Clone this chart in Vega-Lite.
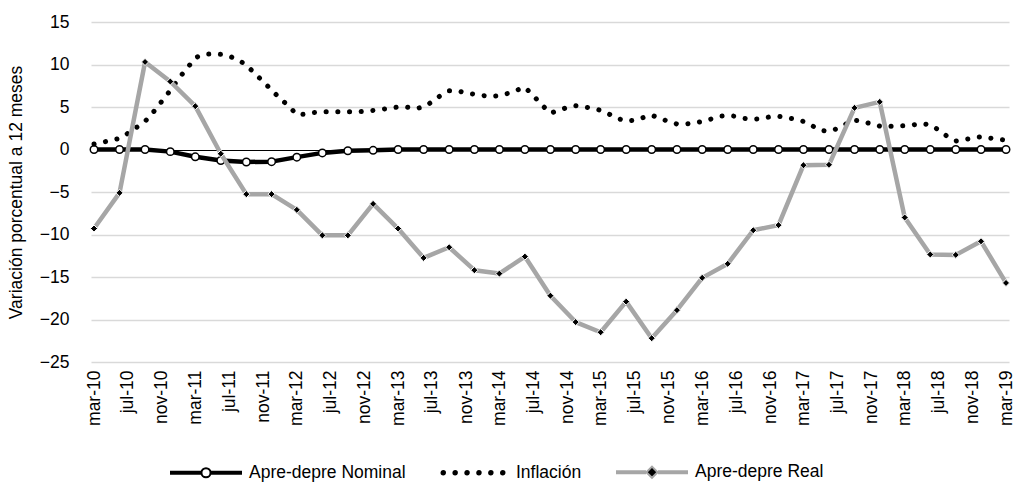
{
  "$schema": "https://vega.github.io/schema/vega-lite/v6.json",
  "width": 918,
  "height": 340,
  "autosize": {"type": "none"},
  "padding": {"left": 91, "top": 22, "right": 7, "bottom": 130},
  "config": {
    "font": "Liberation Sans",
    "view": {"stroke": null},
    "axis": {"labelColor": "#000000", "titleColor": "#000000", "labelFont": "Liberation Sans", "titleFont": "Liberation Sans"},
    "axisX": {"labelOverlap": false},
    "legend": {"labelColor": "#000000", "labelFont": "Liberation Sans"}
  },
  "datasets": {
    "nominal": [
      {"fecha": "2010-03-01", "serie": "Apre-depre Nominal", "valor": 0},
      {"fecha": "2010-06-01", "serie": "Apre-depre Nominal", "valor": 0},
      {"fecha": "2010-09-01", "serie": "Apre-depre Nominal", "valor": 0},
      {"fecha": "2010-12-01", "serie": "Apre-depre Nominal", "valor": -0.25},
      {"fecha": "2011-03-01", "serie": "Apre-depre Nominal", "valor": -0.86},
      {"fecha": "2011-06-01", "serie": "Apre-depre Nominal", "valor": -1.3},
      {"fecha": "2011-09-01", "serie": "Apre-depre Nominal", "valor": -1.47},
      {"fecha": "2011-12-01", "serie": "Apre-depre Nominal", "valor": -1.43},
      {"fecha": "2012-03-01", "serie": "Apre-depre Nominal", "valor": -0.9},
      {"fecha": "2012-06-01", "serie": "Apre-depre Nominal", "valor": -0.4},
      {"fecha": "2012-09-01", "serie": "Apre-depre Nominal", "valor": -0.15},
      {"fecha": "2012-12-01", "serie": "Apre-depre Nominal", "valor": -0.1},
      {"fecha": "2013-03-01", "serie": "Apre-depre Nominal", "valor": 0},
      {"fecha": "2013-06-01", "serie": "Apre-depre Nominal", "valor": 0},
      {"fecha": "2013-09-01", "serie": "Apre-depre Nominal", "valor": 0},
      {"fecha": "2013-12-01", "serie": "Apre-depre Nominal", "valor": 0},
      {"fecha": "2014-03-01", "serie": "Apre-depre Nominal", "valor": 0},
      {"fecha": "2014-06-01", "serie": "Apre-depre Nominal", "valor": 0},
      {"fecha": "2014-09-01", "serie": "Apre-depre Nominal", "valor": 0},
      {"fecha": "2014-12-01", "serie": "Apre-depre Nominal", "valor": 0},
      {"fecha": "2015-03-01", "serie": "Apre-depre Nominal", "valor": 0},
      {"fecha": "2015-06-01", "serie": "Apre-depre Nominal", "valor": 0},
      {"fecha": "2015-09-01", "serie": "Apre-depre Nominal", "valor": 0},
      {"fecha": "2015-12-01", "serie": "Apre-depre Nominal", "valor": 0},
      {"fecha": "2016-03-01", "serie": "Apre-depre Nominal", "valor": 0},
      {"fecha": "2016-06-01", "serie": "Apre-depre Nominal", "valor": 0},
      {"fecha": "2016-09-01", "serie": "Apre-depre Nominal", "valor": 0},
      {"fecha": "2016-12-01", "serie": "Apre-depre Nominal", "valor": 0},
      {"fecha": "2017-03-01", "serie": "Apre-depre Nominal", "valor": 0},
      {"fecha": "2017-06-01", "serie": "Apre-depre Nominal", "valor": 0},
      {"fecha": "2017-09-01", "serie": "Apre-depre Nominal", "valor": 0},
      {"fecha": "2017-12-01", "serie": "Apre-depre Nominal", "valor": 0},
      {"fecha": "2018-03-01", "serie": "Apre-depre Nominal", "valor": 0},
      {"fecha": "2018-06-01", "serie": "Apre-depre Nominal", "valor": 0},
      {"fecha": "2018-09-01", "serie": "Apre-depre Nominal", "valor": 0},
      {"fecha": "2018-12-01", "serie": "Apre-depre Nominal", "valor": 0},
      {"fecha": "2019-03-01", "serie": "Apre-depre Nominal", "valor": 0}
    ],
    "real": [
      {"fecha": "2010-03-01", "serie": "Apre-depre Real", "valor": -9.3},
      {"fecha": "2010-06-01", "serie": "Apre-depre Real", "valor": -5.1},
      {"fecha": "2010-09-01", "serie": "Apre-depre Real", "valor": 10.3},
      {"fecha": "2010-12-01", "serie": "Apre-depre Real", "valor": 8.0},
      {"fecha": "2011-03-01", "serie": "Apre-depre Real", "valor": 5.1},
      {"fecha": "2011-06-01", "serie": "Apre-depre Real", "valor": -0.5},
      {"fecha": "2011-09-01", "serie": "Apre-depre Real", "valor": -5.25},
      {"fecha": "2011-12-01", "serie": "Apre-depre Real", "valor": -5.25},
      {"fecha": "2012-03-01", "serie": "Apre-depre Real", "valor": -7.1},
      {"fecha": "2012-06-01", "serie": "Apre-depre Real", "valor": -10.1},
      {"fecha": "2012-09-01", "serie": "Apre-depre Real", "valor": -10.1},
      {"fecha": "2012-12-01", "serie": "Apre-depre Real", "valor": -6.4},
      {"fecha": "2013-03-01", "serie": "Apre-depre Real", "valor": -9.3},
      {"fecha": "2013-06-01", "serie": "Apre-depre Real", "valor": -12.75},
      {"fecha": "2013-09-01", "serie": "Apre-depre Real", "valor": -11.5},
      {"fecha": "2013-12-01", "serie": "Apre-depre Real", "valor": -14.2},
      {"fecha": "2014-03-01", "serie": "Apre-depre Real", "valor": -14.6},
      {"fecha": "2014-06-01", "serie": "Apre-depre Real", "valor": -12.6},
      {"fecha": "2014-09-01", "serie": "Apre-depre Real", "valor": -17.2},
      {"fecha": "2014-12-01", "serie": "Apre-depre Real", "valor": -20.3},
      {"fecha": "2015-03-01", "serie": "Apre-depre Real", "valor": -21.5},
      {"fecha": "2015-06-01", "serie": "Apre-depre Real", "valor": -17.9},
      {"fecha": "2015-09-01", "serie": "Apre-depre Real", "valor": -22.2},
      {"fecha": "2015-12-01", "serie": "Apre-depre Real", "valor": -18.9},
      {"fecha": "2016-03-01", "serie": "Apre-depre Real", "valor": -15.1},
      {"fecha": "2016-06-01", "serie": "Apre-depre Real", "valor": -13.45},
      {"fecha": "2016-09-01", "serie": "Apre-depre Real", "valor": -9.5},
      {"fecha": "2016-12-01", "serie": "Apre-depre Real", "valor": -8.9},
      {"fecha": "2017-03-01", "serie": "Apre-depre Real", "valor": -1.85},
      {"fecha": "2017-06-01", "serie": "Apre-depre Real", "valor": -1.8},
      {"fecha": "2017-09-01", "serie": "Apre-depre Real", "valor": 4.9},
      {"fecha": "2017-12-01", "serie": "Apre-depre Real", "valor": 5.6},
      {"fecha": "2018-03-01", "serie": "Apre-depre Real", "valor": -8.0},
      {"fecha": "2018-06-01", "serie": "Apre-depre Real", "valor": -12.35},
      {"fecha": "2018-09-01", "serie": "Apre-depre Real", "valor": -12.4},
      {"fecha": "2018-12-01", "serie": "Apre-depre Real", "valor": -10.8},
      {"fecha": "2019-03-01", "serie": "Apre-depre Real", "valor": -15.7}
    ],
    "inflacion": [
      {"fecha": "2010-03-01", "serie": "Inflación", "valor": 0.65},
      {"fecha": "2010-04-01", "serie": "Inflación", "valor": 0.85},
      {"fecha": "2010-05-01", "serie": "Inflación", "valor": 1.08},
      {"fecha": "2010-06-01", "serie": "Inflación", "valor": 1.3},
      {"fecha": "2010-07-01", "serie": "Inflación", "valor": 1.9},
      {"fecha": "2010-08-01", "serie": "Inflación", "valor": 2.6},
      {"fecha": "2010-09-01", "serie": "Inflación", "valor": 3.3},
      {"fecha": "2010-10-01", "serie": "Inflación", "valor": 4.4},
      {"fecha": "2010-11-01", "serie": "Inflación", "valor": 5.7},
      {"fecha": "2010-12-01", "serie": "Inflación", "valor": 6.95},
      {"fecha": "2011-01-01", "serie": "Inflación", "valor": 8.4},
      {"fecha": "2011-02-01", "serie": "Inflación", "valor": 9.6},
      {"fecha": "2011-03-01", "serie": "Inflación", "valor": 10.8},
      {"fecha": "2011-04-01", "serie": "Inflación", "valor": 11.2},
      {"fecha": "2011-05-01", "serie": "Inflación", "valor": 11.25},
      {"fecha": "2011-06-01", "serie": "Inflación", "valor": 11.2},
      {"fecha": "2011-07-01", "serie": "Inflación", "valor": 11.0},
      {"fecha": "2011-08-01", "serie": "Inflación", "valor": 10.55},
      {"fecha": "2011-09-01", "serie": "Inflación", "valor": 9.95},
      {"fecha": "2011-10-01", "serie": "Inflación", "valor": 8.95},
      {"fecha": "2011-11-01", "serie": "Inflación", "valor": 8.0},
      {"fecha": "2011-12-01", "serie": "Inflación", "valor": 7.0},
      {"fecha": "2012-01-01", "serie": "Inflación", "valor": 6.0},
      {"fecha": "2012-02-01", "serie": "Inflación", "valor": 5.1},
      {"fecha": "2012-03-01", "serie": "Inflación", "valor": 4.1},
      {"fecha": "2012-04-01", "serie": "Inflación", "valor": 4.15},
      {"fecha": "2012-05-01", "serie": "Inflación", "valor": 4.35},
      {"fecha": "2012-06-01", "serie": "Inflación", "valor": 4.43},
      {"fecha": "2012-07-01", "serie": "Inflación", "valor": 4.43},
      {"fecha": "2012-08-01", "serie": "Inflación", "valor": 4.43},
      {"fecha": "2012-09-01", "serie": "Inflación", "valor": 4.43},
      {"fecha": "2012-10-01", "serie": "Inflación", "valor": 4.43},
      {"fecha": "2012-11-01", "serie": "Inflación", "valor": 4.5},
      {"fecha": "2012-12-01", "serie": "Inflación", "valor": 4.6},
      {"fecha": "2013-01-01", "serie": "Inflación", "valor": 4.72},
      {"fecha": "2013-02-01", "serie": "Inflación", "valor": 4.87},
      {"fecha": "2013-03-01", "serie": "Inflación", "valor": 5.0},
      {"fecha": "2013-04-01", "serie": "Inflación", "valor": 5.0},
      {"fecha": "2013-05-01", "serie": "Inflación", "valor": 4.8},
      {"fecha": "2013-06-01", "serie": "Inflación", "valor": 5.0},
      {"fecha": "2013-07-01", "serie": "Inflación", "valor": 5.6},
      {"fecha": "2013-08-01", "serie": "Inflación", "valor": 6.35},
      {"fecha": "2013-09-01", "serie": "Inflación", "valor": 6.9},
      {"fecha": "2013-10-01", "serie": "Inflación", "valor": 6.9},
      {"fecha": "2013-11-01", "serie": "Inflación", "valor": 6.65},
      {"fecha": "2013-12-01", "serie": "Inflación", "valor": 6.5},
      {"fecha": "2014-01-01", "serie": "Inflación", "valor": 6.35},
      {"fecha": "2014-02-01", "serie": "Inflación", "valor": 6.24},
      {"fecha": "2014-03-01", "serie": "Inflación", "valor": 6.35},
      {"fecha": "2014-04-01", "serie": "Inflación", "valor": 6.6},
      {"fecha": "2014-05-01", "serie": "Inflación", "valor": 6.95},
      {"fecha": "2014-06-01", "serie": "Inflación", "valor": 7.33},
      {"fecha": "2014-07-01", "serie": "Inflación", "valor": 6.35},
      {"fecha": "2014-08-01", "serie": "Inflación", "valor": 5.25},
      {"fecha": "2014-09-01", "serie": "Inflación", "valor": 4.27},
      {"fecha": "2014-10-01", "serie": "Inflación", "valor": 4.6},
      {"fecha": "2014-11-01", "serie": "Inflación", "valor": 4.95},
      {"fecha": "2014-12-01", "serie": "Inflación", "valor": 5.15},
      {"fecha": "2015-01-01", "serie": "Inflación", "valor": 5.0},
      {"fecha": "2015-02-01", "serie": "Inflación", "valor": 4.85},
      {"fecha": "2015-03-01", "serie": "Inflación", "valor": 4.6},
      {"fecha": "2015-04-01", "serie": "Inflación", "valor": 4.15},
      {"fecha": "2015-05-01", "serie": "Inflación", "valor": 3.65},
      {"fecha": "2015-06-01", "serie": "Inflación", "valor": 3.35},
      {"fecha": "2015-07-01", "serie": "Inflación", "valor": 3.45},
      {"fecha": "2015-08-01", "serie": "Inflación", "valor": 3.75},
      {"fecha": "2015-09-01", "serie": "Inflación", "valor": 4.04},
      {"fecha": "2015-10-01", "serie": "Inflación", "valor": 3.65},
      {"fecha": "2015-11-01", "serie": "Inflación", "valor": 3.3},
      {"fecha": "2015-12-01", "serie": "Inflación", "valor": 3.0},
      {"fecha": "2016-01-01", "serie": "Inflación", "valor": 3.0},
      {"fecha": "2016-02-01", "serie": "Inflación", "valor": 3.1},
      {"fecha": "2016-03-01", "serie": "Inflación", "valor": 3.3},
      {"fecha": "2016-04-01", "serie": "Inflación", "valor": 3.58},
      {"fecha": "2016-05-01", "serie": "Inflación", "valor": 3.9},
      {"fecha": "2016-06-01", "serie": "Inflación", "valor": 4.0},
      {"fecha": "2016-07-01", "serie": "Inflación", "valor": 3.9},
      {"fecha": "2016-08-01", "serie": "Inflación", "valor": 3.65},
      {"fecha": "2016-09-01", "serie": "Inflación", "valor": 3.55},
      {"fecha": "2016-10-01", "serie": "Inflación", "valor": 3.65},
      {"fecha": "2016-11-01", "serie": "Inflación", "valor": 3.85},
      {"fecha": "2016-12-01", "serie": "Inflación", "valor": 3.9},
      {"fecha": "2017-01-01", "serie": "Inflación", "valor": 3.75},
      {"fecha": "2017-02-01", "serie": "Inflación", "valor": 3.55},
      {"fecha": "2017-03-01", "serie": "Inflación", "valor": 3.3},
      {"fecha": "2017-04-01", "serie": "Inflación", "valor": 2.8},
      {"fecha": "2017-05-01", "serie": "Inflación", "valor": 2.25},
      {"fecha": "2017-06-01", "serie": "Inflación", "valor": 2.15},
      {"fecha": "2017-07-01", "serie": "Inflación", "valor": 2.45},
      {"fecha": "2017-08-01", "serie": "Inflación", "valor": 3.0},
      {"fecha": "2017-09-01", "serie": "Inflación", "valor": 3.45},
      {"fecha": "2017-10-01", "serie": "Inflación", "valor": 3.3},
      {"fecha": "2017-11-01", "serie": "Inflación", "valor": 3.0},
      {"fecha": "2017-12-01", "serie": "Inflación", "valor": 2.75},
      {"fecha": "2018-01-01", "serie": "Inflación", "valor": 2.75},
      {"fecha": "2018-02-01", "serie": "Inflación", "valor": 2.75},
      {"fecha": "2018-03-01", "serie": "Inflación", "valor": 2.8},
      {"fecha": "2018-04-01", "serie": "Inflación", "valor": 2.9},
      {"fecha": "2018-05-01", "serie": "Inflación", "valor": 3.05},
      {"fecha": "2018-06-01", "serie": "Inflación", "valor": 2.9},
      {"fecha": "2018-07-01", "serie": "Inflación", "valor": 2.3},
      {"fecha": "2018-08-01", "serie": "Inflación", "valor": 1.55},
      {"fecha": "2018-09-01", "serie": "Inflación", "valor": 1.0},
      {"fecha": "2018-10-01", "serie": "Inflación", "valor": 1.15},
      {"fecha": "2018-11-01", "serie": "Inflación", "valor": 1.35},
      {"fecha": "2018-12-01", "serie": "Inflación", "valor": 1.5},
      {"fecha": "2019-01-01", "serie": "Inflación", "valor": 1.35},
      {"fecha": "2019-02-01", "serie": "Inflación", "valor": 1.2},
      {"fecha": "2019-03-01", "serie": "Inflación", "valor": 1.1}
    ]
  },
  "encoding": {
    "x": {
      "field": "fecha",
      "type": "temporal",
      "scale": {
        "type": "utc",
        "nice": false,
        "padding": 3,
        "domain": [
          {"year": 2010, "month": 3, "date": 1, "utc": true},
          {"year": 2019, "month": 3, "date": 1, "utc": true}
        ]
      },
      "axis": {
        "title": null,
        "values": [
          {"year": 2010, "month": 3, "date": 1, "utc": true},
          {"year": 2010, "month": 7, "date": 1, "utc": true},
          {"year": 2010, "month": 11, "date": 1, "utc": true},
          {"year": 2011, "month": 3, "date": 1, "utc": true},
          {"year": 2011, "month": 7, "date": 1, "utc": true},
          {"year": 2011, "month": 11, "date": 1, "utc": true},
          {"year": 2012, "month": 3, "date": 1, "utc": true},
          {"year": 2012, "month": 7, "date": 1, "utc": true},
          {"year": 2012, "month": 11, "date": 1, "utc": true},
          {"year": 2013, "month": 3, "date": 1, "utc": true},
          {"year": 2013, "month": 7, "date": 1, "utc": true},
          {"year": 2013, "month": 11, "date": 1, "utc": true},
          {"year": 2014, "month": 3, "date": 1, "utc": true},
          {"year": 2014, "month": 7, "date": 1, "utc": true},
          {"year": 2014, "month": 11, "date": 1, "utc": true},
          {"year": 2015, "month": 3, "date": 1, "utc": true},
          {"year": 2015, "month": 7, "date": 1, "utc": true},
          {"year": 2015, "month": 11, "date": 1, "utc": true},
          {"year": 2016, "month": 3, "date": 1, "utc": true},
          {"year": 2016, "month": 7, "date": 1, "utc": true},
          {"year": 2016, "month": 11, "date": 1, "utc": true},
          {"year": 2017, "month": 3, "date": 1, "utc": true},
          {"year": 2017, "month": 7, "date": 1, "utc": true},
          {"year": 2017, "month": 11, "date": 1, "utc": true},
          {"year": 2018, "month": 3, "date": 1, "utc": true},
          {"year": 2018, "month": 7, "date": 1, "utc": true},
          {"year": 2018, "month": 11, "date": 1, "utc": true},
          {"year": 2019, "month": 3, "date": 1, "utc": true}
        ],
        "labelExpr": "lower(utcFormat(datum.value, '%b-%y'))",
        "labelAngle": -90,
        "labelFontSize": 17.5,
        "labelPadding": 8,
        "labelOverlap": false,
        "labelSeparation": 0,
        "labelFlush": false,
        "labelBound": false,
        "ticks": false,
        "domain": false,
        "grid": false
      }
    },
    "y": {
      "field": "valor",
      "type": "quantitative",
      "scale": {"domain": [-25, 15], "nice": false, "zero": false},
      "axis": {
        "title": "Variación porcentual a 12 meses",
        "titleFontSize": 17.5,
        "titleFontWeight": "normal",
        "titlePadding": 14,
        "values": [-25, -20, -15, -10, -5, 0, 5, 10, 15],
        "labelFontSize": 17.5,
        "labelPadding": 22,
        "ticks": false,
        "domain": false,
        "grid": true,
        "gridColor": {"condition": {"test": "datum.value === 0", "value": "#000000"}, "value": "#d9d9d9"},
        "gridWidth": {"condition": {"test": "datum.value === 0", "value": 1}, "value": 1.5}
      }
    }
  },
  "layer": [
    {
      "data": {"name": "nominal"},
      "mark": {"type": "line", "strokeWidth": 4.5, "strokeJoin": "round"},
      "encoding": {
        "color": {
          "field": "serie",
          "type": "nominal",
          "scale": {
            "domain": ["Apre-depre Nominal", "Inflación", "Apre-depre Real"],
            "range": ["#000000", "#000000", "#a6a6a6"]
          },
          "legend": {
            "title": null,
            "orient": "none",
            "direction": "horizontal",
            "legendX": 79,
            "legendY": 414,
            "symbolType": "stroke",
            "symbolSize": 4900,
            "symbolStrokeWidth": 2,
            "labelFontSize": 17.5,
            "labelOffset": 7,
            "columnPadding": 31,
            "labelLimit": 400,
            "encode": {
              "symbols": {
                "update": {
                  "shape": {"signal": "datum.value === 'Inflación' ? 'M-0.8,0A0.05,0.05,0,1,1,-0.9,0A0.05,0.05,0,1,1,-0.8,0ZM-0.46,0A0.05,0.05,0,1,1,-0.56,0A0.05,0.05,0,1,1,-0.46,0ZM-0.12,0A0.05,0.05,0,1,1,-0.22,0A0.05,0.05,0,1,1,-0.12,0ZM0.22,0A0.05,0.05,0,1,1,0.12,0A0.05,0.05,0,1,1,0.22,0ZM0.56,0A0.05,0.05,0,1,1,0.46,0A0.05,0.05,0,1,1,0.56,0ZM0.9,0A0.05,0.05,0,1,1,0.8,0A0.05,0.05,0,1,1,0.9,0Z' : datum.value === 'Apre-depre Real' ? 'M-1,-0.03H-0.2V0.03H-1ZM0.2,-0.03H1V0.03H0.2ZM0,-0.16L0.16,0L0,0.16L-0.16,0Z' : 'M-1,-0.03H-0.17V0.03H-1ZM0.17,-0.03H1V0.03H0.17ZM0.13,0A0.13,0.13,0,1,1,-0.13,0A0.13,0.13,0,1,1,0.13,0Z'"},
                  "fill": {"signal": "datum.value === 'Apre-depre Nominal' ? '#ffffff' : '#000000'"},
                  "stroke": {"signal": "datum.value === 'Apre-depre Real' ? '#a6a6a6' : '#000000'"},
                  "strokeWidth": {"value": 2},
                  "strokeDash": {"value": []},
                  "opacity": {"value": 1}
                }
              }
            }
          }
        }
      }
    },
    {
      "data": {"name": "nominal"},
      "mark": {"type": "point", "shape": "circle", "filled": true, "fill": "#ffffff", "stroke": "#000000", "strokeWidth": 1.5, "size": 56, "opacity": 1}
    },
    {
      "data": {"name": "inflacion"},
      "mark": {"type": "line", "strokeWidth": 5, "strokeDash": [0.1, 11.6], "strokeCap": "round", "strokeJoin": "round"},
      "encoding": {"color": {"field": "serie", "type": "nominal"}}
    },
    {
      "data": {"name": "real"},
      "mark": {"type": "line", "strokeWidth": 4.5, "strokeJoin": "round"},
      "encoding": {"color": {"field": "serie", "type": "nominal"}}
    },
    {
      "data": {"name": "real"},
      "mark": {"type": "point", "shape": "diamond", "filled": true, "fill": "#000000", "stroke": "#ffffff", "strokeWidth": 1, "size": 50, "opacity": 1}
    }
  ]
}
